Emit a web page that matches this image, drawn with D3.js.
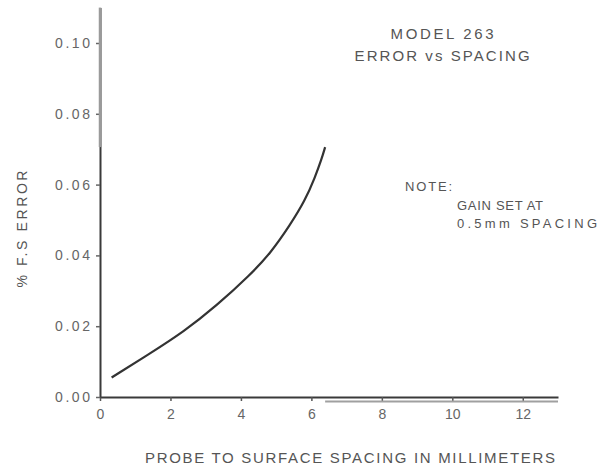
<!DOCTYPE html>
<html>
<head>
<meta charset="utf-8">
<script src="https://cdn.jsdelivr.net/npm/d3@7"></script>
<style>
	body { margin: 0; background: #fff; }
	svg text { font-family: "Liberation Sans", Arial, sans-serif; fill: #555; }
</style>
</head>
<body>
<svg id="chart" width="597" height="471"></svg>
<script>
// probe to surface spacing (mm) vs % F.S error
var spacing = [0.33, 1.42, 2.37, 3.31, 4.26, 4.83, 5.39, 5.82, 6.10, 6.29, 6.39];
var error = [0.0055, 0.0123, 0.0184, 0.0258, 0.0345, 0.0405, 0.0485, 0.0555, 0.0620, 0.0672, 0.0706];
var xTicks = [0, 2, 4, 6, 8, 10, 12];
var yTicks = [0, 0.02, 0.04, 0.06, 0.08, 0.10];
var titleLines = ["MODEL 263", "ERROR vs SPACING"];
var noteLines = ["GAIN SET AT", "0.5mm SPACING"];

var svg = d3.select("#chart");

var xScale = d3.scaleLinear().domain([0, 13]).range([100, 558]);
var yScale = d3.scaleLinear().domain([0, 0.11]).range([397, 7.6]);

// x axis
var xAxis = d3.axisBottom(xScale).tickValues(xTicks).tickSize(4).tickSizeOuter(0)
	.tickFormat(d3.format("d"));
var gx = svg.append("g")
	.attr("transform", "translate(0," + yScale(0) + ")")
	.call(xAxis);
gx.select(".domain").attr("stroke", "#3a3a3a").attr("stroke-width", 2);
gx.selectAll(".tick line").attr("stroke", "#555").attr("stroke-width", 1.5);
gx.selectAll(".tick text")
	.attr("y", 12)
	.style("font-size", "14px")
	.style("fill", "#666");

// y axis
var yAxis = d3.axisLeft(yScale).tickValues(yTicks).tickSize(4).tickSizeOuter(0)
	.tickFormat(d3.format(".2f"));
var gy = svg.append("g")
	.attr("transform", "translate(" + xScale(0) + ",0)")
	.call(yAxis);
gy.select(".domain").attr("stroke", "#3a3a3a").attr("stroke-width", 2);
gy.selectAll(".tick line").attr("stroke", "#666").attr("stroke-width", 1.5);
gy.selectAll(".tick text")
	.attr("x", -10)
	.attr("textLength", 35)
	.attr("lengthAdjust", "spacing")
	.style("font-size", "14px")
	.style("fill", "#666");

// faded parts of the scanned axes
var xEnd = d3.max(spacing), yEnd = d3.max(error);
svg.append("line")
	.attr("x1", xScale(0)).attr("x2", xScale(0))
	.attr("y1", yScale(0.11)).attr("y2", yScale(yEnd))
	.attr("stroke", "#9a9a9a").attr("stroke-width", 2.5);
svg.append("line")
	.attr("x1", xScale(xEnd)).attr("x2", xScale(13))
	.attr("y1", yScale(0) + 4.5).attr("y2", yScale(0) + 4.5)
	.attr("stroke", "#a0a0a0").attr("stroke-width", 2);

// curve
var line = d3.line()
	.x(function(d, i) { return xScale(spacing[i]); })
	.y(function(d) { return yScale(d); })
	.curve(d3.curveBasis);
svg.append("path")
	.datum(error)
	.attr("d", line)
	.attr("fill", "none")
	.attr("stroke", "#333")
	.attr("stroke-width", 2.2);

// axis titles
svg.append("text")
	.attr("x", 145).attr("y", 463)
	.attr("textLength", 410).attr("lengthAdjust", "spacing")
	.style("font-size", "15px")
	.text("PROBE TO SURFACE SPACING IN MILLIMETERS");

svg.append("text")
	.attr("transform", "translate(27,229) rotate(-90)")
	.attr("text-anchor", "middle")
	.attr("textLength", 117).attr("lengthAdjust", "spacing")
	.style("font-size", "14px")
	.text("% F.S ERROR");

// title
var titleWidths = [103, 175];
svg.selectAll(".title")
	.data(titleLines)
	.enter().append("text")
	.attr("class", "title")
	.attr("x", function(d, i) { return xScale(9.71) - titleWidths[i] / 2; })
	.attr("y", function(d, i) { return 39 + i * 22; })
	.attr("textLength", function(d, i) { return titleWidths[i]; })
	.attr("lengthAdjust", "spacing")
	.style("font-size", "15px")
	.text(function(d) { return d; });

// note
svg.append("text")
	.attr("x", 405).attr("y", 191)
	.attr("textLength", 47).attr("lengthAdjust", "spacing")
	.style("font-size", "13px")
	.text("NOTE:");
var noteWidths = [86, 140];
svg.selectAll(".note")
	.data(noteLines)
	.enter().append("text")
	.attr("class", "note")
	.attr("x", 457)
	.attr("y", function(d, i) { return 210 + i * 18; })
	.attr("textLength", function(d, i) { return noteWidths[i]; })
	.attr("lengthAdjust", "spacing")
	.style("font-size", "13px")
	.text(function(d) { return d; });
</script>
</body>
</html>
